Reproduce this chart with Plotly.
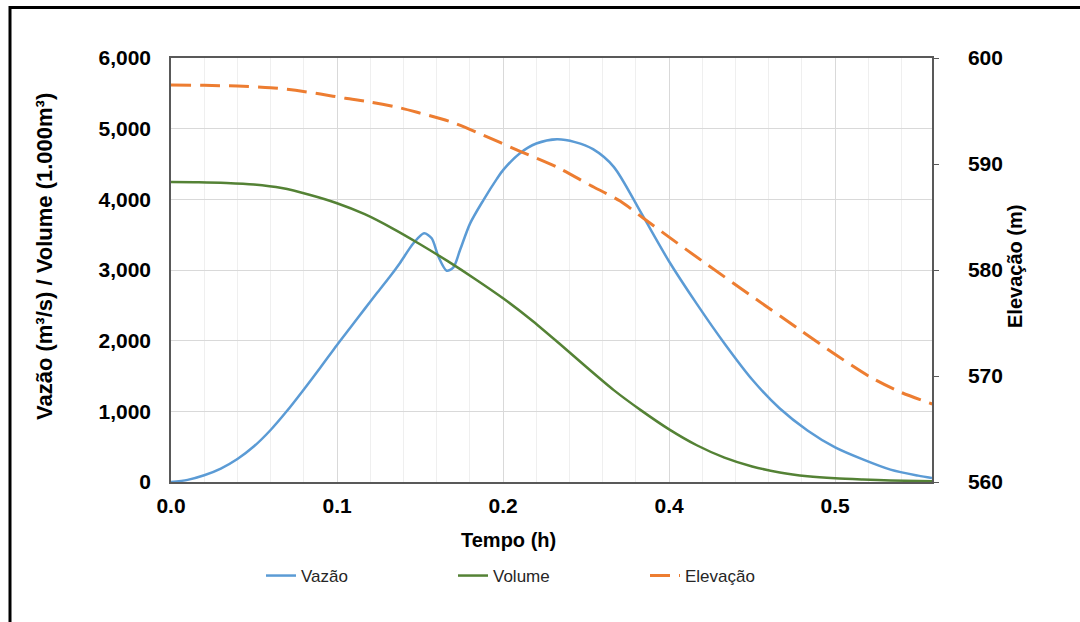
import plotly.graph_objects as go

# ---- data ----
t_vazao = [0, 0.012, 0.024, 0.036, 0.048, 0.06, 0.072, 0.0836, 0.096, 0.108, 0.12, 0.1294,
           0.14, 0.1487, 0.158, 0.1655, 0.1752, 0.1829, 0.1884, 0.1933, 0.1993, 0.2041,
           0.2089, 0.2162, 0.2258, 0.2355, 0.2403, 0.252, 0.264, 0.279, 0.292, 0.305,
           0.32, 0.34, 0.36, 0.38, 0.40, 0.42, 0.44, 0.46, 0.48, 0.50, 0.52, 0.54, 0.55]
vazao = [0, 30, 95, 190, 325, 505, 736, 1000, 1310, 1620, 1940, 2180,
         2450, 2670, 2900, 3100, 3378, 3519, 3448, 3188, 2990, 3038,
         3283, 3660, 3990, 4290, 4420, 4650, 4790, 4850, 4810, 4710,
         4460, 3800, 3120, 2520, 1960, 1450, 1040, 730, 490, 320, 175, 90, 57]

t_volume = [0, 0.02, 0.04, 0.06, 0.08, 0.10, 0.12, 0.14, 0.16, 0.18, 0.20, 0.22, 0.24,
            0.26, 0.28, 0.30, 0.32, 0.34, 0.36, 0.38, 0.40, 0.42, 0.44, 0.46, 0.48,
            0.50, 0.52, 0.55]
volume = [4245, 4242, 4232, 4210, 4160, 4065, 3945, 3790, 3590, 3365, 3125, 2870, 2600,
          2300, 1970, 1630, 1300, 1010, 745, 520, 345, 220, 135, 82, 52,
          35, 22, 10]

t_elev = [0, 0.024, 0.048, 0.072, 0.09, 0.108, 0.126, 0.144, 0.1655, 0.18, 0.2017, 0.2234,
          0.2523, 0.279, 0.303, 0.3246, 0.3412, 0.36, 0.3839, 0.4186, 0.4547, 0.4807,
          0.5053, 0.527, 0.5501]
elevacao = [597.45, 597.42, 597.35, 597.2, 596.95, 596.6, 596.2, 595.85, 595.3, 594.8, 594.0, 592.85,
            591.2, 589.7, 588.0, 586.5, 584.9, 583.1, 580.85, 577.64, 574.34, 571.98,
            569.91, 568.49, 567.36]

x_ticks = [0, 0.12, 0.24, 0.36, 0.48]
y_left_ticks = [0, 1000, 2000, 3000, 4000, 5000, 6000]
y_right_ticks = [560, 570, 580, 590, 600]

x_title = "Tempo (h)"
y_title = "Vazão (m³/s) / Volume (1.000m³)"
y2_title = "Elevação (m)"

FONT = "Liberation Sans, Arial, sans-serif"
TICK = 21

fig = go.Figure()
fig.add_trace(go.Scatter(x=t_vazao, y=vazao, name="Vazão", mode="lines",
                         line=dict(color="#5B9BD5", width=2.5, shape="spline", smoothing=0.8)))
fig.add_trace(go.Scatter(x=t_volume, y=volume, name="Volume", mode="lines",
                         line=dict(color="#548235", width=2.5, shape="spline", smoothing=0.8)))
fig.add_trace(go.Scatter(x=t_elev, y=elevacao, name="Elevação", mode="lines", yaxis="y2",
                         line=dict(color="#ED7D31", width=3, dash="20px,9px",
                                   shape="spline", smoothing=0.8)))

L, R, T, B = 171, 148, 58, 140
W, H = 1080, 622
pw, ph = W - L - R, H - T - B

def px(x):
    return (x - L) / pw

def py(y):
    return (H - B - y) / ph

fig.update_layout(
    width=W, height=H,
    margin=dict(l=L, r=R, t=T, b=B, autoexpand=False),
    paper_bgcolor="white", plot_bgcolor="white",
    font=dict(family=FONT, color="#000000"),
    showlegend=True,
    legend=dict(orientation="h", x=px(261), y=py(576), xanchor="left", yanchor="middle",
                font=dict(family=FONT, size=17, color="#262626"),
                entrywidth=147, entrywidthmode="pixels", bgcolor="rgba(0,0,0,0)",
                traceorder="normal"),
    xaxis=dict(range=[0, 0.55], tickmode="array", tickvals=x_ticks, tickformat=".1f",
               showgrid=True, gridcolor="#D9D9D9", gridwidth=1,
               minor=dict(dtick=0.024, tick0=0, showgrid=True, gridcolor="#EFEFEF", gridwidth=1),
               showline=True, linecolor="#595959", linewidth=1.5, mirror=True,
               ticks="", zeroline=False,
               tickfont=dict(family=FONT, size=TICK, color="#000000", weight="bold"),
               ticklabelstandoff=4),
    yaxis=dict(range=[0, 6000], tickmode="array", tickvals=y_left_ticks, tickformat=",d",
               showgrid=True, gridcolor="#D9D9D9", gridwidth=1,
               showline=True, linecolor="#595959", linewidth=1.5,
               ticks="", zeroline=False,
               tickfont=dict(family=FONT, size=TICK, color="#000000", weight="bold"),
               ticklabelstandoff=14),
    yaxis2=dict(range=[560, 600], tickmode="array", tickvals=y_right_ticks,
                overlaying="y", side="right", showgrid=False,
                showline=True, linecolor="#595959", linewidth=1.5,
                ticks="outside", ticklen=5, tickcolor="#595959", zeroline=False,
                tickfont=dict(family=FONT, size=TICK, color="#000000", weight="bold"),
                ticklabelstandoff=25),
    annotations=[
        dict(text="<b>" + x_title + "</b>", xref="paper", yref="paper",
             x=px(508), y=py(540), xanchor="center", yanchor="middle", showarrow=False,
             font=dict(family=FONT, size=20, color="#000000")),
        dict(text="<b>" + y_title + "</b>", xref="paper", yref="paper", textangle=-90,
             x=px(44), y=py(257), xanchor="center", yanchor="middle", showarrow=False,
             font=dict(family=FONT, size=22, color="#000000")),
        dict(text="<b>" + y2_title + "</b>", xref="paper", yref="paper", textangle=-90,
             x=px(1015), y=py(267), xanchor="center", yanchor="middle", showarrow=False,
             font=dict(family=FONT, size=20, color="#000000")),
    ],
    shapes=[
        dict(type="line", xref="paper", yref="paper", x0=px(10), x1=px(1090),
             y0=py(7.5), y1=py(7.5), line=dict(color="#000000", width=3)),
        dict(type="line", xref="paper", yref="paper", x0=px(10), x1=px(10),
             y0=py(6), y1=py(640), line=dict(color="#000000", width=3)),
    ],
)

fig.write_html("out.html", config={"displayModeBar": False},
               post_script="document.body.style.margin='0';")
